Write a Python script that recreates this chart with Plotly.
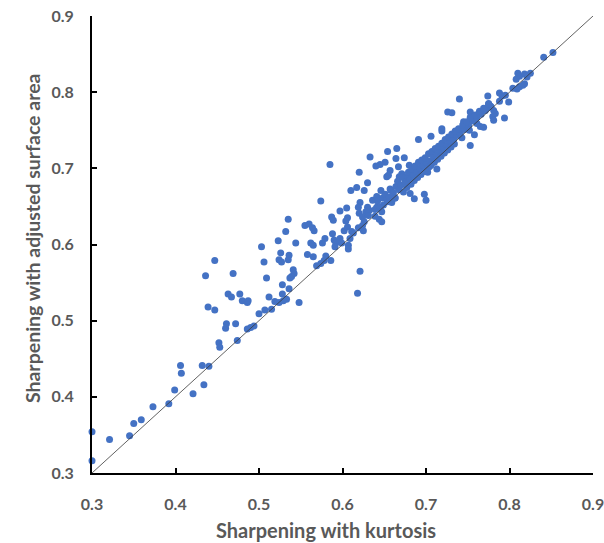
import plotly.graph_objects as go

# Sharpening with kurtosis (x) and with adjusted surface area (y)
kurt_low = [0.300, 0.300, 0.321, 0.345, 0.350, 0.359, 0.373, 0.392, 0.399, 0.406, 0.407, 0.421,
            0.432, 0.440, 0.434, 0.452, 0.453, 0.474]
area_low = [0.316, 0.354, 0.344, 0.349, 0.365, 0.370, 0.387, 0.391, 0.409, 0.441, 0.431, 0.404,
            0.441, 0.440, 0.416, 0.471, 0.465, 0.474]

kurt_mid = [0.532, 0.523, 0.503, 0.544, 0.562, 0.565, 0.566, 0.576, 0.579, 0.588, 0.590, 0.592,
            0.602, 0.613, 0.625, 0.609, 0.607, 0.607, 0.597, 0.526, 0.536, 0.535, 0.524, 0.527,
            0.506, 0.447, 0.558, 0.565, 0.578, 0.586, 0.569, 0.574, 0.436, 0.469, 0.509, 0.541,
            0.542, 0.539, 0.537, 0.621, 0.528, 0.536, 0.618, 0.463, 0.467, 0.477, 0.480, 0.486,
            0.487, 0.512, 0.528, 0.533, 0.529, 0.524, 0.519, 0.548, 0.439, 0.447, 0.500, 0.507,
            0.515, 0.461, 0.460, 0.472, 0.486, 0.490, 0.494]
area_mid = [0.617, 0.605, 0.597, 0.602, 0.602, 0.599, 0.618, 0.602, 0.608, 0.614, 0.606, 0.602,
            0.618, 0.615, 0.618, 0.608, 0.599, 0.594, 0.608, 0.589, 0.586, 0.580, 0.580, 0.577,
            0.577, 0.579, 0.587, 0.584, 0.579, 0.579, 0.572, 0.575, 0.559, 0.562, 0.556, 0.567,
            0.562, 0.558, 0.556, 0.565, 0.547, 0.542, 0.536, 0.535, 0.531, 0.535, 0.526, 0.524,
            0.526, 0.531, 0.535, 0.528, 0.526, 0.524, 0.525, 0.524, 0.518, 0.514, 0.509, 0.514,
            0.515, 0.496, 0.490, 0.496, 0.489, 0.491, 0.493]

kurt_up = [0.585, 0.691, 0.706, 0.719, 0.758, 0.753, 0.665, 0.654, 0.633, 0.674, 0.664, 0.651,
           0.645, 0.640, 0.657, 0.620, 0.667, 0.671, 0.668, 0.680, 0.653, 0.655, 0.630, 0.617,
           0.610, 0.626, 0.646, 0.657, 0.574, 0.681, 0.686, 0.698, 0.700, 0.713, 0.702, 0.704,
           0.636, 0.641, 0.621, 0.619, 0.605, 0.597, 0.587, 0.589, 0.606, 0.604, 0.630, 0.628,
           0.632, 0.641, 0.645, 0.649, 0.654, 0.659, 0.663, 0.620, 0.624, 0.626, 0.639, 0.644,
           0.647, 0.535, 0.555, 0.560, 0.564, 0.606, 0.624]
area_up = [0.705, 0.738, 0.742, 0.749, 0.744, 0.730, 0.726, 0.722, 0.715, 0.714, 0.713, 0.708,
           0.705, 0.703, 0.697, 0.695, 0.702, 0.693, 0.689, 0.704, 0.689, 0.691, 0.681, 0.675,
           0.671, 0.671, 0.671, 0.673, 0.657, 0.667, 0.660, 0.666, 0.658, 0.699, 0.695, 0.702,
           0.658, 0.663, 0.655, 0.649, 0.648, 0.644, 0.636, 0.632, 0.635, 0.631, 0.649, 0.643,
           0.645, 0.649, 0.647, 0.652, 0.656, 0.658, 0.661, 0.641, 0.636, 0.630, 0.637, 0.633,
           0.630, 0.633, 0.625, 0.627, 0.622, 0.623, 0.625]

kurt_top = [0.852, 0.841, 0.810, 0.812, 0.808, 0.818, 0.825, 0.821, 0.818, 0.804, 0.809, 0.812,
            0.816, 0.774, 0.740, 0.788, 0.791, 0.795, 0.799, 0.788, 0.775, 0.778, 0.773, 0.781,
            0.783, 0.780, 0.781, 0.794, 0.769, 0.765, 0.726, 0.731, 0.753, 0.755, 0.753, 0.757,
            0.745, 0.750, 0.749, 0.719, 0.761, 0.765, 0.769]
area_top = [0.852, 0.846, 0.825, 0.821, 0.817, 0.824, 0.825, 0.820, 0.811, 0.805, 0.804, 0.807,
            0.809, 0.795, 0.791, 0.799, 0.795, 0.796, 0.787, 0.788, 0.785, 0.781, 0.779, 0.776,
            0.772, 0.768, 0.763, 0.766, 0.776, 0.774, 0.774, 0.773, 0.774, 0.770, 0.767, 0.767,
            0.761, 0.757, 0.754, 0.752, 0.759, 0.755, 0.754]

kurt_dense = [0.580, 0.591, 0.599, 0.611, 0.619, 0.631,
              0.639, 0.642, 0.645, 0.648, 0.647, 0.653, 0.651, 0.656, 0.659, 0.658,
              0.661, 0.664, 0.663, 0.668, 0.666, 0.670, 0.673, 0.672, 0.675, 0.678, 0.677,
              0.681, 0.679, 0.682, 0.685, 0.683, 0.686, 0.689, 0.687, 0.690, 0.693, 0.691, 0.694,
              0.697, 0.695, 0.698, 0.701, 0.699, 0.702, 0.705, 0.703, 0.706, 0.709, 0.707, 0.710,
              0.713, 0.711, 0.714, 0.717, 0.715, 0.718, 0.721, 0.719, 0.722, 0.725, 0.723, 0.726,
              0.729, 0.727, 0.730, 0.733, 0.731, 0.734, 0.737, 0.735, 0.741, 0.739, 0.743,
              0.746, 0.744, 0.751, 0.749, 0.752, 0.756, 0.754, 0.761, 0.759, 0.766, 0.764,
              0.771, 0.769, 0.777, 0.775]
area_dense = [0.585, 0.597, 0.602, 0.617, 0.622, 0.638,
              0.646, 0.657, 0.649, 0.661, 0.643, 0.659, 0.666, 0.662, 0.655, 0.671,
              0.668, 0.676, 0.661, 0.672, 0.683, 0.678, 0.669, 0.688, 0.682, 0.690, 0.675,
              0.686, 0.695, 0.679, 0.692, 0.699, 0.684, 0.696, 0.703, 0.688, 0.700, 0.708, 0.692,
              0.703, 0.711, 0.696, 0.707, 0.714, 0.700, 0.710, 0.719, 0.704, 0.715, 0.722, 0.708,
              0.718, 0.726, 0.712, 0.722, 0.729, 0.716, 0.727, 0.733, 0.720, 0.730, 0.738, 0.724,
              0.735, 0.741, 0.728, 0.738, 0.745, 0.732, 0.743, 0.749, 0.746, 0.752, 0.740,
              0.751, 0.757, 0.756, 0.761, 0.750, 0.762, 0.766, 0.767, 0.770, 0.771, 0.775,
              0.776, 0.779, 0.782, 0.784]

kurtosis = kurt_low + kurt_mid + kurt_up + kurt_top + kurt_dense
surface_area = area_low + area_mid + area_up + area_top + area_dense

identity = [0.3, 0.9]
tick_vals = [0.3, 0.4, 0.5, 0.6, 0.7, 0.8, 0.9]
tick_text = ["0.3", "0.4", "0.5", "0.6", "0.7", "0.8", "0.9"]
x_title = "Sharpening with kurtosis"
y_title = "Sharpening with adjusted surface area"

FONT = "Lato"
GREY = "#595959"

fig = go.Figure()
fig.add_trace(go.Scatter(
    x=kurtosis, y=surface_area, mode="markers",
    marker=dict(color="#4472C4", size=7, line=dict(width=0)),
    cliponaxis=False, showlegend=False, hoverinfo="x+y"))
fig.add_trace(go.Scatter(
    x=identity, y=identity, mode="lines",
    line=dict(color="#3a3a3a", width=0.8), showlegend=False, hoverinfo="skip"))

axis_common = dict(
    range=[0.3, 0.9], tickvals=tick_vals, ticktext=tick_text,
    showgrid=False, zeroline=False, showline=True, linecolor="black", linewidth=2,
    ticks="inside", ticklen=5, tickwidth=2, tickcolor="black",
    tickfont=dict(family=FONT, size=16, color=GREY, weight="bold"),
    ticklabeloverflow="allow", automargin=False,
    fixedrange=True,
)
fig.update_xaxes(**axis_common, ticklabelstandoff=16)
fig.update_yaxes(**axis_common, ticklabelstandoff=13)

# plot area: x 92..593, y 16..473 of the 604x543 page
fig.update_layout(
    width=604, height=543,
    margin=dict(l=92, r=11, t=16, b=70, autoexpand=False),
    plot_bgcolor="white", paper_bgcolor="white",
    annotations=[
        dict(text=x_title, xref="paper", yref="paper", x=0.468, y=-0.1247,
             showarrow=False, xanchor="center", yanchor="middle",
             font=dict(family=FONT, size=20, color=GREY, weight="bold")),
        dict(text=y_title, xref="paper", yref="paper", x=-0.1198, y=0.514,
             showarrow=False, xanchor="center", yanchor="middle", textangle=-90,
             font=dict(family=FONT, size=19.5, color=GREY, weight="bold")),
    ],
)

fig.write_html(
    "out.html",
    config={"displayModeBar": False},
    post_script="document.body.style.margin='0';document.body.style.overflow='hidden';",
)
